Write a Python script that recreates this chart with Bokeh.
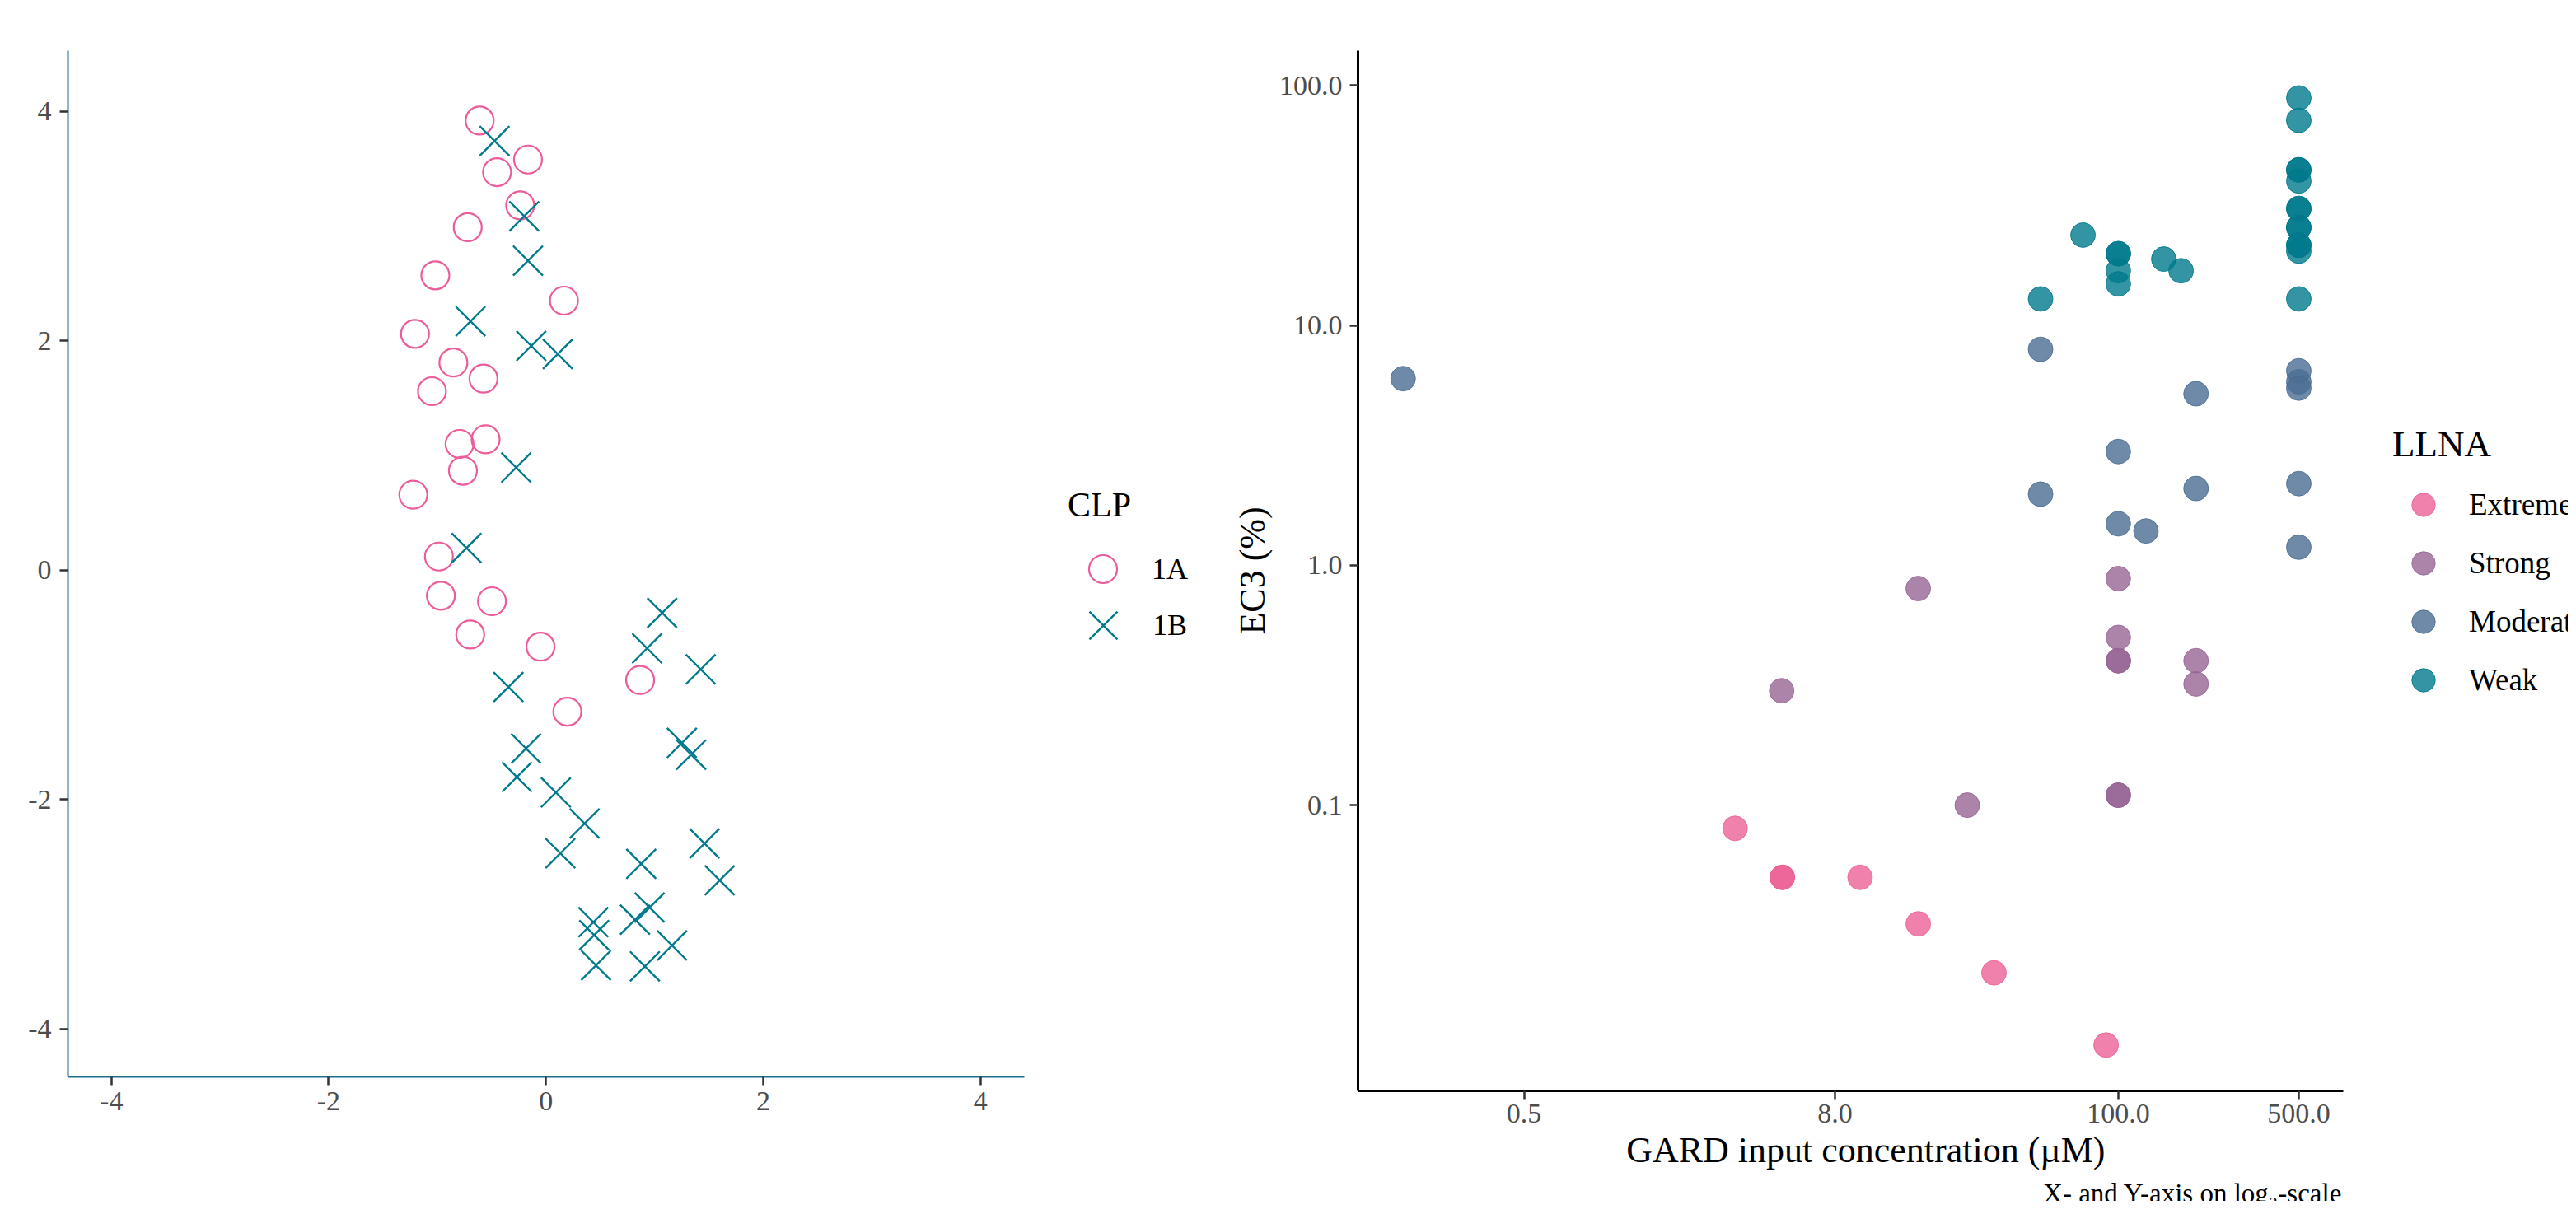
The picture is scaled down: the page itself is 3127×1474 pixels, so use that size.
from bokeh.plotting import figure
from bokeh.models import (ColumnDataSource, Legend, LegendItem, FixedTicker,
                          Range1d, Title)
from bokeh.layouts import row
from bokeh.embed import file_html
from bokeh.resources import INLINE

# ---------------- data: left panel (CLP) ----------------
clp_1a_x = [-0.61, -0.165, -0.45, -0.237, -0.72, -1.018, 0.166, -1.205, -0.852, -0.575, -1.049,
            -0.795, -0.555, -0.764, -1.221, -0.985, -0.967, -0.497, -0.697, -0.05, 0.197, 0.867]
clp_1a_y = [3.92, 3.58, 3.47, 3.18, 2.99, 2.57, 2.35, 2.06, 1.81, 1.67, 1.56,
            1.10, 1.14, 0.866, 0.657, 0.118, -0.224, -0.272, -0.562, -0.668, -1.235, -0.959]
clp_1b_x = [-0.473, -0.2, -0.165, -0.694, -0.135, 0.109, -0.274, -0.731, 1.07, 0.931, 1.425,
            -0.345, -0.183, -0.267, 0.092, 0.356, 0.133, 1.252, 1.337, 1.46, 1.60, 0.877,
            0.955, 0.82, 0.437, 0.444, 1.161, 0.461, 0.911]
clp_1b_y = [3.743, 3.086, 2.698, 2.17, 1.955, 1.884, 0.894, 0.192, -0.373, -0.683, -0.866,
            -1.02, -1.556, -1.805, -1.94, -2.21, -2.47, -1.507, -1.61, -2.385, -2.706, -2.562,
            -2.943, -3.049, -3.071, -3.184, -3.274, -3.447, -3.456]
clp_labels = ["1A", "1B"]
lin_ticks = [-4, -2, 0, 2, 4]

# ---------------- data: right panel (LLNA) ----------------
extreme_x = [3.28, 5.0, 5.0, 10.0, 16.8, 33.0, 89.7]
extreme_y = [0.08, 0.05, 0.05, 0.05, 0.032, 0.02, 0.01]
strong_x = [4.97, 16.8, 26.0, 100, 100, 100, 100, 100, 100, 200, 200]
strong_y = [0.3, 0.8, 0.1, 0.88, 0.5, 0.4, 0.4, 0.11, 0.11, 0.4, 0.32]
moderate_x = [0.17, 50, 500, 500, 500, 200, 100, 50, 200, 500, 100, 128, 500]
moderate_y = [6.0, 7.95, 6.47, 5.82, 5.48, 5.19, 2.98, 1.98, 2.09, 2.19, 1.49, 1.39, 1.19]
weak_x = [50, 73, 100, 100, 100, 100, 150, 175, 500, 500, 500, 500, 500, 500, 500,
          500, 500, 500, 500, 500, 500]
weak_y = [12.9, 23.8, 19.9, 19.9, 16.9, 14.9, 18.9, 16.9, 88.8, 71.6, 44.5, 44.5, 40.0, 30.7, 30.7,
          25.6, 25.6, 21.6, 21.6, 20.4, 12.9]
llna_labels = ["Extreme", "Strong", "Moderate", "Weak"]
x_log_ticks = [0.5, 8, 100, 500]
x_log_labels = ["0.5", "8.0", "100.0", "500.0"]
y_log_ticks = [0.1, 1, 10, 100]
y_log_labels = ["0.1", "1.0", "10.0", "100.0"]

FONT = "Liberation Serif"
PINK = "#EC5C9A"
TEAL = "#007A8C"
llna_colors = ["#EC6097", "#976595", "#4A6D92", "#00798C"]

# axis extents (data units) and the extra room kept at the right for each legend
X1_LO, X1_HI, X1_LEGEND_HI = -4.4, 4.405, 6.293
X2_LO, X2_HI, X2_LEGEND_HI = 0.1137, 743.0, 5523.0


def style_axes(p, line_color, line_width):
    for ax in (p.xaxis[0], p.yaxis[0]):
        ax.axis_line_color = line_color
        ax.axis_line_width = line_width
        ax.major_tick_line_color = "#333333"
        ax.major_tick_line_width = 2.5
        ax.major_tick_out = 10
        ax.major_tick_in = 0
        ax.minor_tick_line_color = None
        ax.major_label_text_font = FONT
        ax.major_label_text_font_size = "34px"
        ax.major_label_text_color = "#4D4D4D"
        ax.axis_label_text_font = FONT
        ax.axis_label_text_font_size = "44px"
        ax.axis_label_text_font_style = "normal"
        ax.axis_label_text_color = "black"
    p.xgrid.visible = False
    p.ygrid.visible = False
    p.outline_line_color = None


LEG_COMMON = dict(padding=0, margin=0, border_line_color=None, background_fill_alpha=0,
                  label_text_font=FONT, label_text_color="black",
                  title_text_font=FONT, title_text_font_style="normal", title_text_color="black",
                  inactive_fill_alpha=0)

# ---------------- left figure ----------------
p1 = figure(frame_width=1410, frame_height=1246,
            x_range=Range1d(X1_LO, X1_LEGEND_HI), y_range=Range1d(-4.42, 4.53),
            min_border_left=82, min_border_right=0, min_border_top=61, min_border_bottom=151,
            output_backend="svg", toolbar_location=None)
style_axes(p1, "#1F6F8B", 2)
p1.xaxis.bounds = (X1_LO, X1_HI)
p1.xaxis.ticker = FixedTicker(ticks=lin_ticks)
p1.yaxis.ticker = FixedTicker(ticks=lin_ticks)
p1.xaxis.major_label_overrides = {t: str(t) for t in lin_ticks}
p1.yaxis.major_label_overrides = {t: str(t) for t in lin_ticks}
p1.xaxis.major_label_standoff = 8
p1.yaxis.major_label_standoff = 10

src_a = ColumnDataSource(dict(x=clp_1a_x, y=clp_1a_y))
src_b = ColumnDataSource(dict(x=clp_1b_x, y=clp_1b_y))
ra = p1.scatter("x", "y", source=src_a, marker="circle", size=34,
                fill_color=None, line_color=PINK, line_width=2.2)
rb = p1.scatter("x", "y", source=src_b, marker="x", size=51,
                line_color=TEAL, line_width=2.4)

legA = Legend(items=[LegendItem(label=clp_labels[0], renderers=[ra])], location=(1214, 574),
              title="CLP", title_text_font_size="42px", title_standoff=11,
              label_text_font_size="36px", glyph_width=85, glyph_height=85, label_standoff=17,
              **LEG_COMMON)
legB = Legend(items=[LegendItem(label=clp_labels[1], renderers=[rb])], location=(1197, 484),
              label_text_font_size="36px", glyph_width=120, glyph_height=128, label_standoff=0,
              **LEG_COMMON)
p1.add_layout(legA, "center")
p1.add_layout(legB, "center")

# ---------------- right figure ----------------
p2 = figure(frame_width=1469, frame_height=1263, x_axis_type="log", y_axis_type="log",
            x_range=Range1d(X2_LO, X2_LEGEND_HI), y_range=Range1d(0.00644, 139.8),
            min_border_left=150, min_border_right=0, min_border_top=46, min_border_bottom=149,
            output_backend="svg", toolbar_location=None)
style_axes(p2, "black", 3)
p2.xaxis.bounds = (X2_LO, X2_HI)
p2.xaxis.ticker = FixedTicker(ticks=x_log_ticks)
p2.yaxis.ticker = FixedTicker(ticks=y_log_ticks)
p2.xaxis.major_label_overrides = dict(zip(x_log_ticks, x_log_labels))
p2.yaxis.major_label_overrides = dict(zip(y_log_ticks, y_log_labels))
p2.xaxis.major_label_standoff = 6
p2.yaxis.major_label_standoff = 9
p2.yaxis.axis_label = "EC3 (%)"
p2.yaxis.axis_label_standoff = 5

groups = [(extreme_x, extreme_y), (strong_x, strong_y), (moderate_x, moderate_y), (weak_x, weak_y)]
items = []
for (gx, gy), lab, col in zip(groups, llna_labels, llna_colors):
    s = ColumnDataSource(dict(x=gx, y=gy))
    r = p2.scatter("x", "y", source=s, marker="circle", size=30,
                   fill_color=col, fill_alpha=0.8, line_color=col, line_alpha=0.85, line_width=1)
    items.append(LegendItem(label=lab, renderers=[r]))

leg2 = Legend(items=items, location=(1256, 463), title="LLNA",
              title_text_font_size="45px", title_standoff=12,
              label_text_font_size="37px", glyph_width=75, glyph_height=71, spacing=0,
              label_standoff=18, **LEG_COMMON)
p2.add_layout(leg2, "center")

# x-axis title, centred under the axis itself (not under the legend room)
xtitle = Title(text="GARD input concentration (\u00b5M)", align="right",
               text_font=FONT, text_font_size="44px", text_font_style="normal",
               text_color="black", standoff=9, offset=562)
p2.add_layout(xtitle, "below")
note = Title(text="X- and Y-axis on log\u2082-scale", align="right",
             text_font=FONT, text_font_size="33px", text_font_style="normal",
             text_color="black", standoff=6, offset=274)
p2.add_layout(note, "below")

layout = row(p1, p2)
open("out.html", "w").write(file_html(layout, INLINE))
